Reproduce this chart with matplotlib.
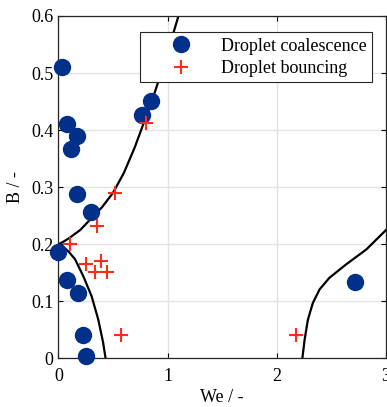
import matplotlib
matplotlib.use("Agg")
import matplotlib.pyplot as plt

plt.rcParams['font.family'] = ['Liberation Serif', 'DejaVu Serif']

# Measured points
coal_we = [0.03, 0.08, 0.17, 0.12, 0.17, 0.30, 0.0, 0.08, 0.18, 0.23, 0.25, 0.77, 0.845, 2.72]
coal_b = [0.51, 0.41, 0.39, 0.367, 0.288, 0.256, 0.186, 0.138, 0.114, 0.041, 0.004, 0.426, 0.451, 0.134]

bounce_we = [0.107, 0.35, 0.515, 0.25, 0.387, 0.332, 0.442, 0.57, 0.80, 2.175]
bounce_b = [0.201, 0.232, 0.29, 0.166, 0.171, 0.152, 0.152, 0.041, 0.413, 0.041]

# Boundary curves
upper_we = [0.0, 0.05, 0.1, 0.2, 0.3, 0.4, 0.5, 0.6, 0.7, 0.75, 0.8, 0.85, 0.9, 0.95, 1.0, 1.05, 1.1]
upper_b = [0.2, 0.205, 0.211, 0.225, 0.245, 0.265, 0.29, 0.325, 0.37, 0.396, 0.422, 0.447, 0.476, 0.507, 0.538, 0.568, 0.6]

lower_we = [0.0, 0.03, 0.09, 0.153, 0.229, 0.305, 0.366, 0.411, 0.433]
lower_b = [0.2, 0.198, 0.188, 0.174, 0.144, 0.109, 0.068, 0.027, 0.0]

right_we = [2.234, 2.255, 2.285, 2.33, 2.392, 2.48, 2.636, 2.82, 3.0]
right_b = [0.0, 0.033, 0.068, 0.097, 0.121, 0.141, 0.165, 0.191, 0.225]

fig = plt.figure(figsize=(3.87, 4.07), dpi=100)
ax = fig.add_axes([0.1507, 0.1192, 0.8467, 0.8415])

ax.plot(upper_we, upper_b, color="black", lw=1.6, zorder=2)
ax.plot(lower_we, lower_b, color="black", lw=1.6, zorder=2)
ax.plot(right_we, right_b, color="black", lw=1.6, zorder=2)

ax.plot(coal_we, coal_b, linestyle="none", marker="o", markersize=11.5,
        color="#00308a", label="Droplet coalescence", zorder=3, clip_on=False)
ax.plot(bounce_we, bounce_b, linestyle="none", marker="+", markersize=10,
        markeredgewidth=1.5, color="#ff2a1a", label="Droplet bouncing", zorder=4)

ax.set_xlim(0, 3)
ax.set_ylim(0, 0.6)
ax.set_xticks([0, 1, 2, 3])
ax.set_xticklabels(["0", "1", "2", "3"])
ax.set_yticks([0, 0.1, 0.2, 0.3, 0.4, 0.5, 0.6])
ax.set_yticklabels(["0", "0.1", "0.2", "0.3", "0.4", "0.5", "0.6"])
ax.tick_params(direction="in", length=3.5, width=0.8, top=True, right=True,
               labelsize=13)
ax.tick_params(axis="y", pad=3.5)
ax.tick_params(axis="x", pad=6.5)
ax.grid(True, color="#e3e3e3", lw=1.0)
ax.set_axisbelow(True)
for s in ax.spines.values():
    s.set_linewidth(0.9)
    s.set_color("#262626")

ax.set_xlabel("We / -", fontsize=13, labelpad=3)
ax.set_ylabel("B / -", fontsize=13, labelpad=5)

leg = ax.legend(loc="upper right", bbox_to_anchor=(0.957, 0.953), fontsize=13,
                frameon=True, fancybox=False, edgecolor="#262626",
                handletextpad=0.25, borderpad=0.3, labelspacing=0.3,
                handlelength=3.9, borderaxespad=0)
leg.get_frame().set_linewidth(0.8)
leg.get_frame().set_alpha(1)
leg.set_zorder(10)

fig.savefig("out.png", dpi=100)
